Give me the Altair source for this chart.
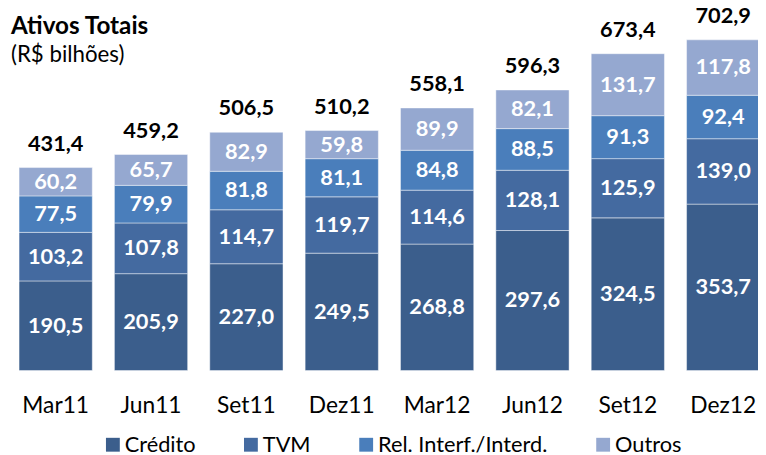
import altair as alt
import pandas as pd

titulo = "Ativos Totais"
subtitulo = "(R$ bilhões)"
periodos = ["Mar11", "Jun11", "Set11", "Dez11", "Mar12", "Jun12", "Set12", "Dez12"]
series = ["Crédito", "TVM", "Rel. Interf./Interd.", "Outros"]
credito = [190.5, 205.9, 227.0, 249.5, 268.8, 297.6, 324.5, 353.7]
tvm = [103.2, 107.8, 114.7, 119.7, 114.6, 128.1, 125.9, 139.0]
rel = [77.5, 79.9, 81.8, 81.1, 84.8, 88.5, 91.3, 92.4]
outros = [60.2, 65.7, 82.9, 59.8, 89.9, 82.1, 131.7, 117.8]
totais = [431.4, 459.2, 506.5, 510.2, 558.1, 596.3, 673.4, 702.9]
cores = ["#3B5E8C", "#446AA0", "#4A7EBB", "#95A8D0"]


def fmt(v):
    return f"{v:.1f}".replace(".", ",")


rows = []
for i, (nome, vals) in enumerate(zip(series, [credito, tvm, rel, outros])):
    for p, v in zip(periodos, vals):
        rows.append({"periodo": p, "serie": nome, "ordem": i, "valor": v, "rotulo": fmt(v)})
df = pd.DataFrame(rows)
tot = pd.DataFrame({"periodo": periodos, "total": totais, "rotulo": [fmt(v) for v in totais]})

FONT = "Lato"

xenc = alt.X(
    "periodo:N",
    sort=periodos,
    scale=alt.Scale(range=[0, 771], paddingInner=0.232, paddingOuter=0.116),
    axis=alt.Axis(
        title=None, labelAngle=0, domain=False, ticks=False, tickSize=0,
        labelFont=FONT, labelFontSize=23, labelColor="black", labelPadding=24,
    ),
)
yscale = alt.Scale(domain=[0, 618.3], nice=False, zero=True)

base = alt.Chart(df).transform_stack(
    stack="valor", groupby=["periodo"], sort=[alt.SortField("ordem")], as_=["y0", "y1"]
).transform_calculate(mid="(datum.y0 + datum.y1) / 2")

bars = base.mark_bar(stroke="white", strokeWidth=1, strokeOpacity=0.45).encode(
    x=xenc,
    y=alt.Y("y0:Q", scale=yscale, axis=None),
    y2="y1:Q",
    color=alt.Color(
        "serie:N",
        scale=alt.Scale(domain=series, range=cores),
        legend=alt.Legend(
            title=None, orient="none", legendX=95, legendY=358, direction="horizontal",
            columns=4, symbolType="square", symbolSize=196, symbolStrokeWidth=0,
            labelFont=FONT, labelFontSize=22, labelColor="black", labelOffset=1,
            columnPadding=44.5, symbolOpacity=1, labelLimit=400,
        ),
    ),
)

seg_text = base.mark_text(font=FONT, fontSize=22, fontWeight="bold", color="white", baseline="middle").encode(
    x=alt.X("periodo:N", sort=periodos),
    y=alt.Y("mid:Q", scale=yscale),
    text="rotulo:N",
)

tot_text = alt.Chart(tot).mark_text(
    font=FONT, fontSize=22, fontWeight="bold", color="black", baseline="alphabetic", dy=-17
).encode(
    x=alt.X("periodo:N", sort=periodos),
    y=alt.Y("total:Q", scale=yscale),
    text="rotulo:N",
)

title_text = alt.Chart(pd.DataFrame({"t": [titulo]})).mark_text(
    font=FONT, fontSize=24.5, fontWeight="bold", color="black", align="left", baseline="alphabetic"
).encode(text="t:N", x=alt.value(3), y=alt.value(-46))

subtitle_text = alt.Chart(pd.DataFrame({"t": [subtitulo]})).mark_text(
    font=FONT, fontSize=22.5, color="black", align="left", baseline="alphabetic"
).encode(text="t:N", x=alt.value(3), y=alt.value(-18))

chart = alt.layer(bars, seg_text, tot_text, title_text, subtitle_text).properties(
    width=758,
    height=294,
    autosize=alt.AutoSizeParams(type="none"),
    padding={"left": 0, "top": 70, "right": 0, "bottom": 86},
    background="white",
).configure_view(stroke=None)

chart.save("out.html", embed_options={"renderer": "svg", "actions": False})
